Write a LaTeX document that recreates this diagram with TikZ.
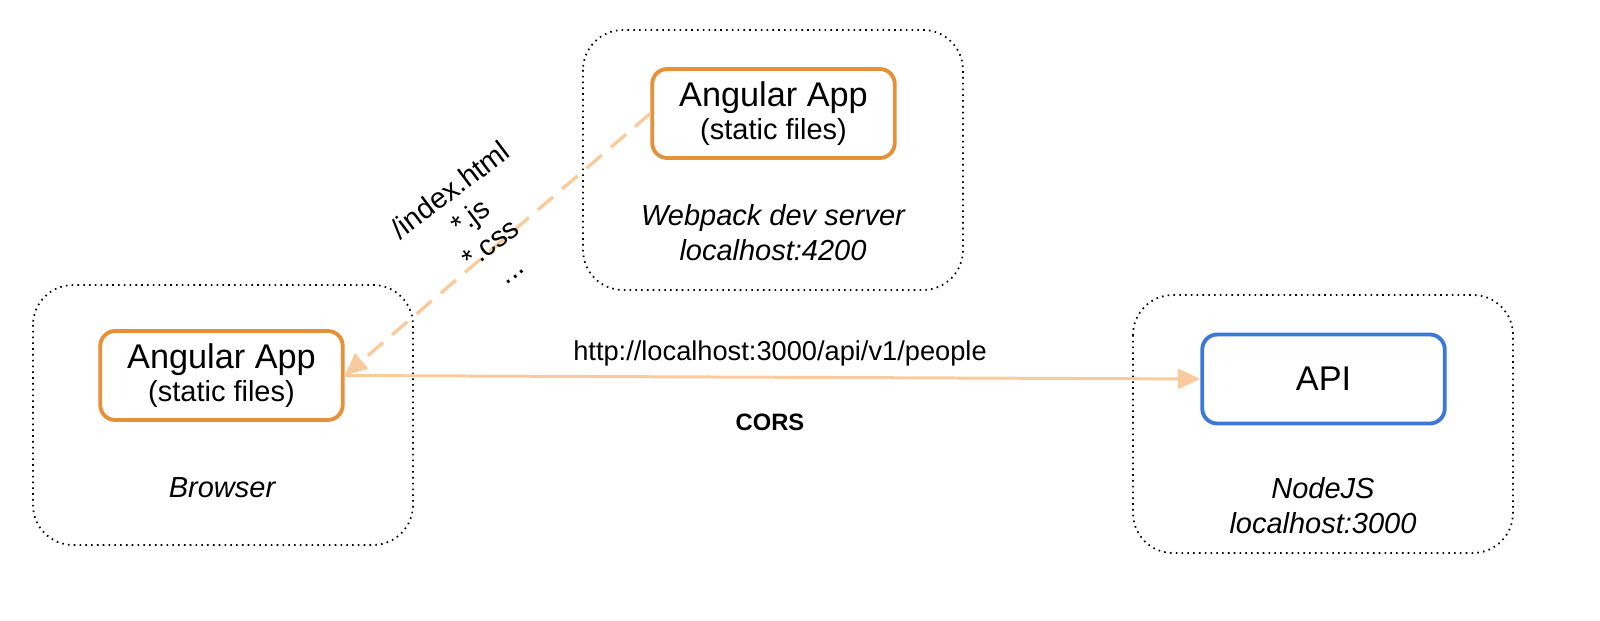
\documentclass[tikz,border=0pt]{standalone}
\usepackage{fontspec}
\setmainfont{Liberation Sans}
\usetikzlibrary{arrows.meta, positioning}

\definecolor{appline}{HTML}{E69138}
\definecolor{apiline}{HTML}{3C78D8}
\definecolor{reqline}{HTML}{F9CB9C}

\begin{document}
\begin{tikzpicture}[
  host/.style={draw, line width=1pt, dash pattern=on 0.9pt off 2.4pt,
    rounded corners=0.8cm},
  appbox/.style={draw=appline, line width=2.2pt, rounded corners=0.3cm,
    minimum width=4.85cm, minimum height=1.78cm, align=center,
    font=\fontsize{19.5}{20}\selectfont},
  apibox/.style={appbox, draw=apiline},
  hostlabel/.style={align=center, font=\fontsize{16.5}{20}\selectfont\itshape},
  req/.style={reqline, line width=1.7pt, -{Triangle[length=0.45cm, width=0.4cm]}},
]

\useasboundingbox (0,0) rectangle (32,-12.42);

% hosts
\draw[host] (0.66,-5.7) rectangle (8.26,-10.9) ;
\draw[host] (11.66,-0.6) rectangle (19.26,-5.8) ;
\draw[host] (22.66,-5.9) rectangle (30.26,-11.06) ;

% apps
\node[appbox] (devapp) at (15.47,-2.27)
{Angular App\\[-1pt]{\fontsize{16.5}{18}\selectfont (static files)}};
\node[appbox] (browserapp) at (4.43,-7.51)
{Angular App\\[-1pt]{\fontsize{16.5}{18}\selectfont (static files)}};
\node[apibox] (api) at (26.47,-7.58) {API};

\node[hostlabel] (devlabel) at (15.46,-4.65) {Webpack dev server\\localhost:4200};
\node[hostlabel] (browserlabel) at (4.44,-9.76) {Browser};
\node[hostlabel] (nodelabel) at (26.46,-10.12) {NodeJS\\localhost:3000};

% static files
\draw[req, line width=1.9pt, dash pattern=on 0.4cm off 0.24cm] (devapp.west) --
node[pos=0.5, rotate=37, xshift=-0.1cm, yshift=0.45cm, align=center, text=black,
font=\fontsize{16.5}{19}\selectfont]
{/index.html\\*.js\\*.css\\...} (browserapp.east) ;

% api call
\draw[req] (browserapp.east) -- (api.west) ;
\node[font=\fontsize{15.5}{18}\selectfont] (url) at (15.6,-7.06)
{http://localhost:3000/api/v1/people};
\node[font=\fontsize{13.5}{15}\selectfont\bfseries] (cors) at (15.4,-8.44) {CORS};

\end{tikzpicture}
\end{document}
